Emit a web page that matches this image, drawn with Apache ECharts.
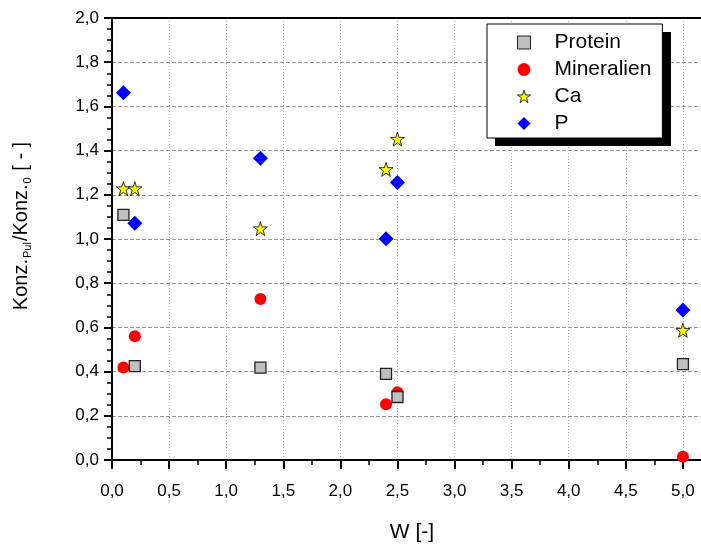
<!DOCTYPE html>
<html>
<head>
<meta charset="utf-8">
<script src="https://cdn.jsdelivr.net/npm/echarts@6/dist/echarts.min.js"></script>
<style>
html, body { margin: 0; padding: 0; background: #fff; }
#chart { width: 701px; height: 545px; }
</style>
</head>
<body>
<div id="chart"></div>
<script>
// Werte
var wWerte = [0.1, 0.2, 1.3, 2.4, 2.5, 5.0];
var protein = [1.109, 0.425, 0.418, 0.39, 0.285, 0.434];
var mineralien = [0.419, 0.56, 0.728, 0.252, 0.306, 0.015];
var calcium = [1.228, 1.228, 1.047, 1.315, 1.452, 0.587];
var phosphor = [1.662, 1.071, 1.365, 1.001, 1.256, 0.679];
var reihen = ['Protein', 'Mineralien', 'Ca', 'P'];

var schrift = "'Liberation Sans', Arial, sans-serif";
var stern = 'path://M50,2 L61,36 L97,36 L68,57 L79,92 L50,71 L21,92 L32,57 L3,36 L39,36 Z';

function punkte(werte) {
    return wWerte.map(function (w, i) { return [w, werte[i]]; });
}
function komma(v) {
    return v.toFixed(1).replace('.', ',');
}

var chart = echarts.init(document.getElementById('chart'));

var option = {
    backgroundColor: '#fff',
    animation: false,
    grid: { left: 112, top: 18, width: 628, height: 442, outerBoundsMode: 'none' },
    legend: {
        data: [
            { name: 'Protein', itemStyle: { borderWidth: 1 } },
            { name: 'Mineralien' },
            { name: 'Ca', itemStyle: { borderWidth: 0.8 } },
            { name: 'P' }
        ],
        orient: 'vertical',
        left: 487,
        top: 24,
        padding: [8, 11, 4, 30],
        itemWidth: 13,
        itemHeight: 13,
        itemGap: 6,
        backgroundColor: '#fff',
        borderColor: '#000',
        borderWidth: 1,
        borderRadius: 0,
        textStyle: { fontFamily: schrift, fontSize: 21, lineHeight: 20, color: '#000', padding: [0, 0, 0, 19] }
    },
    xAxis: [{
        type: 'value',
        min: 0,
        max: 5.5,
        interval: 0.5,
        axisLine: { lineStyle: { color: '#000', width: 2 } },
        axisTick: { length: 9, lineStyle: { color: '#000', width: 2 } },
        minorTick: { show: true, splitNumber: 2, length: 5, lineStyle: { color: '#000', width: 1.5 } },
        axisLabel: { margin: 23, fontFamily: schrift, fontSize: 17, color: '#000', formatter: komma },
        splitLine: { show: true, lineStyle: { color: '#aaa', width: 1, type: [1, 2] } }
    }, {
        type: 'value',
        position: 'top',
        min: 0,
        max: 5.5,
        axisLine: { show: true, lineStyle: { color: '#000', width: 2 } },
        axisTick: { show: false },
        axisLabel: { show: false },
        splitLine: { show: false }
    }],
    yAxis: {
        type: 'value',
        min: 0,
        max: 2,
        interval: 0.2,
        axisLine: { show: true, lineStyle: { color: '#000', width: 2 } },
        axisTick: { show: true, length: 8, lineStyle: { color: '#000', width: 2 } },
        minorTick: { show: true, splitNumber: 4, length: 5, lineStyle: { color: '#000', width: 1.5 } },
        axisLabel: { margin: 13, fontFamily: schrift, fontSize: 17, color: '#000', formatter: komma },
        splitLine: { show: true, lineStyle: { color: '#999', width: 1, type: [4, 2] } }
    },
    graphic: [{
        // Schatten der Legende
        type: 'rect',
        z: 3,
        shape: { x: 495, y: 32, width: 176, height: 114 },
        style: { fill: '#000' }
    }, {
        type: 'text',
        x: 412,
        y: 532,
        style: { text: 'W [-]', fontFamily: schrift, fontSize: 21, fill: '#000', align: 'center', verticalAlign: 'middle' }
    }, {
        type: 'text',
        x: 22,
        y: 226,
        rotation: Math.PI / 2,
        style: {
            text: '{a|Konz.}{s|Pul}{a|/Konz.}{s|0}{a| [ - ]}',
            align: 'center',
            verticalAlign: 'middle',
            fill: '#000',
            rich: {
                a: { fontFamily: schrift, fontSize: 20, lineHeight: 22, verticalAlign: 'top', fill: '#000' },
                s: { fontFamily: schrift, fontSize: 11, lineHeight: 9, verticalAlign: 'bottom', padding: [19, 1, 0, 1], fill: '#000' }
            }
        }
    }],
    series: [{
        name: 'Protein',
        type: 'scatter',
        z: 4,
        data: punkte(protein),
        symbol: 'rect',
        symbolSize: 11,
        itemStyle: { color: '#c0c0c0', borderColor: '#222', borderWidth: 1.3, opacity: 1 }
    }, {
        name: 'Mineralien',
        type: 'scatter',
        z: 2,
        data: punkte(mineralien),
        symbol: 'circle',
        symbolSize: 12,
        itemStyle: { color: '#ff0000', opacity: 1 }
    }, {
        name: 'Ca',
        type: 'scatter',
        z: 3,
        data: punkte(calcium),
        symbol: stern,
        symbolSize: 14,
        itemStyle: { color: '#ffff00', borderColor: '#000', borderWidth: 0.8, opacity: 1 }
    }, {
        name: 'P',
        type: 'scatter',
        z: 3,
        data: punkte(phosphor),
        symbol: 'diamond',
        symbolSize: 15,
        itemStyle: { color: '#0000ff', opacity: 1 }
    }]
};

chart.setOption(option);
</script>
</body>
</html>
